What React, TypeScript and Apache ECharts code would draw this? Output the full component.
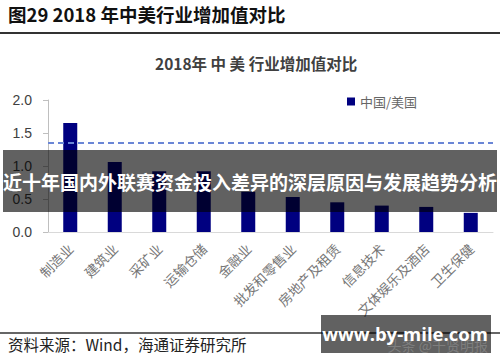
import React, { useEffect, useRef } from "react";
import * as echarts from "echarts";

const pageTitle = "图29 2018 年中美行业增加值对比";
const chartTitle = "2018年 中 美 行业增加值对比";
const seriesName = "中国/美国";
const sourceText = "资料来源：Wind，海通证券研究所";
const bannerText = "近十年国内外联赛资金投入差异的深层原因与发展趋势分析";
const watermarkText = "www.by-mile.com";
const faintText = "头条 @千贤明报";

const categories = [
  "制造业",
  "建筑业",
  "采矿业",
  "运输仓储",
  "金融业",
  "批发和零售业",
  "房地产及租赁",
  "信息技术",
  "文体娱乐及酒店",
  "卫生保健",
];
const ratioValues = [1.65, 1.06, 0.92, 0.92, 0.61, 0.53, 0.45, 0.4, 0.38, 0.29];
const referenceLine = 1.35;
const yTicks = { min: 0, max: 2, interval: 0.5 };

const CJK = '"Noto Sans CJK SC", "Liberation Sans", sans-serif';

export default function App() {
  const ref = useRef<HTMLDivElement>(null);
  useEffect(() => {
    if (!ref.current) return;
    const chart = echarts.init(ref.current, undefined, { renderer: "svg" });
    chart.setOption({
      animation: false,
      backgroundColor: "#ffffff",
      title: {
        text: chartTitle,
        left: 150,
        top: 50,
        textStyle: { fontFamily: CJK, fontSize: 15.5, fontWeight: "bold", color: "#404040" },
      },
      legend: {
        left: 342,
        top: 90,
        icon: "rect",
        itemWidth: 8,
        itemHeight: 8,
        itemGap: 4,
        textStyle: { fontFamily: CJK, fontSize: 13, color: "#666666" },
        data: [seriesName],
      },
      grid: { left: 48, right: 7, top: 100, bottom: 130, containLabel: false },
      xAxis: {
        type: "category",
        data: categories,
        axisLine: { show: true, lineStyle: { color: "#d9d9d9", width: 1 } },
        axisTick: { show: false },
        axisLabel: {
          rotate: 45,
          interval: 0,
          margin: 14,
          fontFamily: CJK,
          fontSize: 13.5,
          color: "#777777",
        },
      },
      yAxis: {
        type: "value",
        min: yTicks.min,
        max: yTicks.max,
        interval: yTicks.interval,
        splitLine: { show: false },
        axisLine: { show: true, lineStyle: { color: "#bfbfbf" } },
        axisTick: { show: true, length: 5, lineStyle: { color: "#bfbfbf" } },
        axisLabel: {
          margin: 16,
          fontFamily: '"Liberation Sans", Arial, sans-serif',
          fontSize: 14,
          color: "#404040",
          formatter: (v: number) => v.toFixed(1),
        },
      },
      series: [
        {
          name: seriesName,
          type: "bar",
          data: ratioValues,
          barWidth: 14,
          itemStyle: { color: "#000080" },
          markLine: {
            silent: true,
            symbol: ["none", "none"],
            label: { show: false },
            lineStyle: { color: "#6a86d6", type: [6, 4], width: 1.8 },
            data: [{ yAxis: referenceLine }],
          },
        },
      ],
      graphic: [
        {
          type: "text",
          left: 8,
          top: 5,
          style: {
            text: pageTitle,
            font: `bold 18.5px ${CJK}`,
            fill: "#111111",
          },
        },
        {
          type: "line",
          shape: { x1: 0, y1: 33, x2: 500, y2: 33 },
          style: { stroke: "#333333", lineWidth: 2 },
        },
        {
          type: "line",
          shape: { x1: 0, y1: 333, x2: 500, y2: 333 },
          style: { stroke: "#333333", lineWidth: 1.5 },
        },
        {
          type: "text",
          left: 8,
          top: 336,
          style: {
            text: sourceText,
            font: `15.5px ${CJK}`,
            fill: "#222222",
          },
        },
        {
          type: "rect",
          z: 100,
          shape: { x: 3, y: 150, width: 494, height: 62 },
          style: { fill: "rgba(0,0,0,0.62)" },
        },
        {
          type: "text",
          z: 101,
          x: 250,
          y: 181,
          style: {
            text: bannerText,
            font: `bold 19px ${CJK}`,
            fill: "#ffffff",
            align: "center",
            verticalAlign: "middle",
          },
        },
        {
          type: "rect",
          z: 100,
          shape: { x: 321, y: 315, width: 170, height: 38 },
          style: { fill: "rgba(0,0,0,0.62)" },
        },
        {
          type: "text",
          z: 101,
          x: 488,
          y: 345,
          style: {
            text: faintText,
            font: `14px ${CJK}`,
            fill: "rgba(255,255,255,0.2)",
            align: "right",
            verticalAlign: "middle",
          },
        },
        {
          type: "text",
          z: 102,
          x: 405,
          y: 333,
          style: {
            text: watermarkText,
            font: `bold 18.5px "Open Sans", "Liberation Sans", sans-serif`,
            fill: "#ffffff",
            align: "center",
            verticalAlign: "middle",
          },
        },
      ],
    });
    return () => chart.dispose();
  }, []);
  return (
    <div
      ref={ref}
      style={{ position: "absolute", left: 0, top: 0, width: 500, height: 362 }}
    />
  );
}
